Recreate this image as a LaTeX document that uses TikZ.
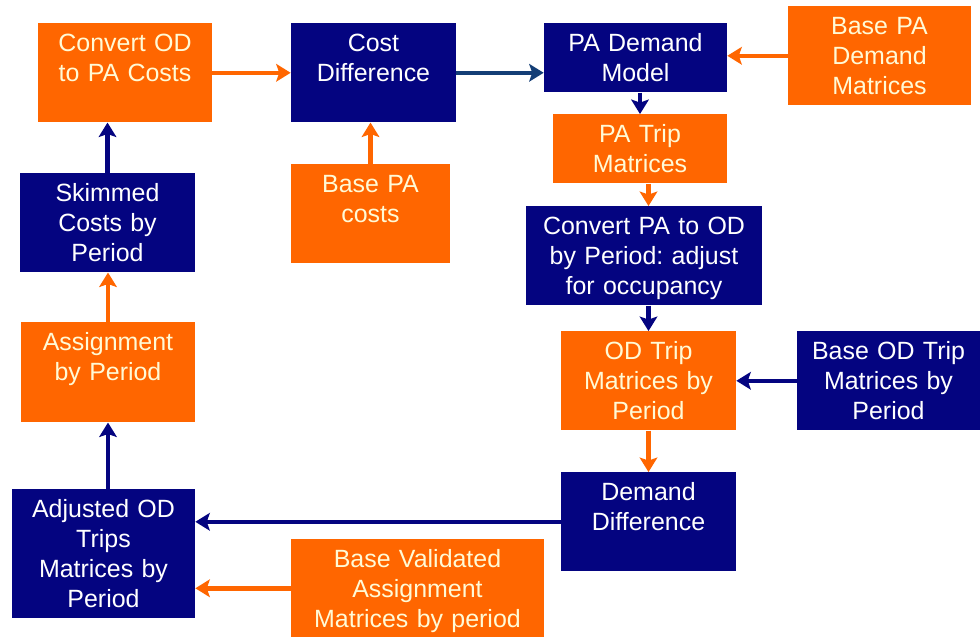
\documentclass[tikz,border=0pt]{standalone}
\usepackage{fontspec}
\setmainfont{Liberation Sans}
\usetikzlibrary{arrows.meta}
\frenchspacing
\definecolor{tangerine}{RGB}{255,102,0}
\definecolor{navyblue}{RGB}{4,4,128}
\definecolor{steel}{RGB}{20,62,118}
\definecolor{cream}{RGB}{255,250,214}

\tikzset{
  box/.style={rectangle,anchor=north,inner sep=0pt,align=center,
    font=\fontsize{14.2pt}{17.05pt}\selectfont,text height=16.2pt},
  boxw/.style={text width={#1*0.02cm}},
  boxh/.style={text depth={(#1-28.6)*0.02cm}},
  obox/.style={box,fill=tangerine,text=cream},
  nbox/.style={box,fill=navyblue,text=white},
  flow/.style={line width=2.6pt,-{Stealth[length=8.2pt,width=10pt,inset=1.7pt]}},
}

\begin{document}
\begin{tikzpicture}[x=0.02cm,y=-0.02cm]
\useasboundingbox[fill=white] (0,0) rectangle (980,637);
% cost side
\node[obox,boxw=174,boxh=99] (cvod) at (125,23) {Convert OD\\to PA Costs};
\node[nbox,boxw=165,boxh=99] (cdiff) at (373.5,23) {Cost\\Difference};
\node[nbox,boxw=175,boxh=99] (skim) at (107.5,173) {Skimmed\\Costs by\\Period};
\node[obox,boxw=159,boxh=99] (bpac) at (370.5,164) {Base PA\\costs};
% demand model
\node[nbox,boxw=183,boxh=69] (pad) at (635.5,23) {PA Demand\\Model};
\node[obox,boxw=183,boxh=99] (bpad) at (879.5,6) {Base PA\\Demand\\Matrices};
\node[obox,boxw=174,boxh=69] (trip) at (640,114) {PA Trip\\Matrices};
\node[nbox,boxw=236,boxh=99] (cpa) at (644,206) {Convert PA to OD\\by Period: adjust\\for occupancy};
\node[obox,boxw=175,boxh=99] (odt) at (648.5,331) {OD Trip\\Matrices by\\Period};
\node[nbox,boxw=183,boxh=99] (bodt) at (888.5,331) {Base OD Trip\\Matrices by\\Period};
\node[nbox,boxw=175,boxh=99] (ddiff) at (648.5,472) {Demand\\Difference};
% assignment
\node[obox,boxw=174,boxh=100] (asg) at (108,322) {Assignment\\by Period};
\node[nbox,boxw=183,boxh=129] (adj) at (103.5,489) {Adjusted OD\\Trips\\Matrices by\\Period};
\node[obox,boxw=253,boxh=98] (bval) at (417.5,539) {Base Validated\\Assignment\\Matrices by period};
% arrows
\draw[flow,navyblue] (skim.north) -- (skim.north |- cvod.south);
\draw[flow,tangerine] (cvod.east) -- (cdiff.west);
\draw[flow,tangerine] (bpac.north) -- (bpac.north |- cdiff.south);
\draw[flow,steel] (cdiff.east) -- (cdiff.east -| pad.west);
\draw[flow,tangerine] (bpad.west) -- (bpad.west -| pad.east);
\draw[flow,navyblue] (trip.north |- pad.south) -- (trip.north);
\draw[flow,tangerine] (trip.south -| odt.north) -- (cpa.north -| odt.north);
\draw[flow,navyblue] (cpa.south -| odt.north) -- (odt.north);
\draw[flow,navyblue] (bodt.west) -- (odt.east);
\draw[flow,tangerine] (odt.south) -- (ddiff.north);
\draw[flow,navyblue] (ddiff.west) -- (ddiff.west -| adj.east);
\draw[flow,tangerine] (bval.west) -- (bval.west -| adj.east);
\draw[flow,navyblue] (asg.south |- adj.north) -- (asg.south);
\draw[flow,tangerine] (asg.north) -- (asg.north |- skim.south);
\end{tikzpicture}
\end{document}
